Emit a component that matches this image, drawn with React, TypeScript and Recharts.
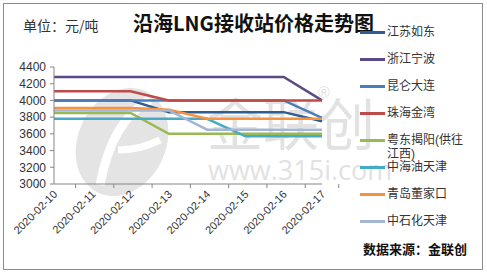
import { LineChart, Line, XAxis, YAxis, Legend } from "recharts";

const dates = [
  "2020-02-10",
  "2020-02-11",
  "2020-02-12",
  "2020-02-13",
  "2020-02-14",
  "2020-02-15",
  "2020-02-16",
  "2020-02-17",
];

const jiangsuRudong = [4000, 4000, 4000, 3860, 3860, 3860, 3860, 3750];
const zhejiangNingbo = [4280, 4280, 4280, 4280, 4280, 4280, 4280, 4000];
const kunlunDalian = [4000, 4000, 4000, 4000, 4000, 4000, 4000, 3790];
const zhuhaiJinwan = [4110, 4110, 4110, 4000, 4000, 4000, 4000, 4000];
const yuedongJieyang = [3850, 3850, 3850, 3600, 3600, 3600, 3600, 3600];
const cnoocTianjin = [3780, 3780, 3780, 3780, 3780, 3570, 3570, 3570];
const qingdaoDongjiakou = [3910, 3910, 3910, 3890, 3780, 3780, 3780, 3780];
const sinopecTianjin = [3880, 3880, 3880, 3880, 3650, 3650, 3650, 3650];

const yTicks = [3000, 3200, 3400, 3600, 3800, 4000, 4200, 4400];

const series = [
  { key: "江苏如东", values: jiangsuRudong, color: "#2f5d91" },
  { key: "浙江宁波", values: zhejiangNingbo, color: "#5c4a85" },
  { key: "昆仑大连", values: kunlunDalian, color: "#4a7ebb" },
  { key: "珠海金湾", values: zhuhaiJinwan, color: "#be4b48" },
  { key: "粤东揭阳(供往江西)", values: yuedongJieyang, color: "#98b954" },
  { key: "中海油天津", values: cnoocTianjin, color: "#46aac5" },
  { key: "青岛董家口", values: qingdaoDongjiakou, color: "#f69240" },
  { key: "中石化天津", values: sinopecTianjin, color: "#a3b6d8" },
];

const data = dates.map((d, i) => {
  const row: Record<string, string | number> = { date: d };
  series.forEach((s) => (row[s.key] = s.values[i]));
  return row;
});

const FONT = '"Liberation Sans", "Noto Sans CJK SC", sans-serif';
const AXIS = "#868686";
const W = 487;
const H = 272;
const M = { top: 67, right: 165, bottom: 0, left: 0 };
const Y_W = 54;
const X_H = 88;
const HALF_BAND = (W - M.right - Y_W) / dates.length / 2;

const XTick = (props: any) => {
  const { x, y, payload, index } = props;
  const last = index === dates.length - 1;
  return (
    <g>
      <line x1={x - HALF_BAND} x2={x - HALF_BAND} y1={y - 4} y2={y} stroke={AXIS} />
      {last && <line x1={x + HALF_BAND} x2={x + HALF_BAND} y1={y - 4} y2={y} stroke={AXIS} />}
      <text
        x={x + 4}
        y={y + 7}
        textAnchor="end"
        fontSize={11}
        fill="#333"
        fontFamily={FONT}
        transform={`rotate(-45, ${x + 4}, ${y + 7})`}
      >
        {payload.value}
      </text>
    </g>
  );
};

// legend keeps the series order instead of the default name sort
const renderLegend = () => (
  <div style={{ fontFamily: FONT, fontSize: 12, color: "#333" }}>
    {series.map((s) => (
      <div key={s.key} style={{ display: "flex", alignItems: "flex-start", height: 27 }}>
        <span
          style={{
            display: "inline-block",
            width: 25,
            height: 2.5,
            marginTop: 6,
            background: s.color,
          }}
        />
        <span style={{ width: 80, lineHeight: "14px", marginLeft: 2 }}>{s.key}</span>
      </div>
    ))}
  </div>
);

export default function App() {
  return (
    <div
      style={{
        position: "absolute",
        left: 0,
        top: 0,
        width: W,
        height: H,
        background: "#fff",
        overflow: "hidden",
        fontFamily: FONT,
      }}
    >
      {/* frame */}
      <div
        style={{
          position: "absolute",
          left: 3,
          top: 3,
          width: 478,
          height: 265,
          border: "1px solid #8c8c8c",
        }}
      />
      {/* watermark */}
      <svg width={W} height={H} style={{ position: "absolute", left: 0, top: 0 }}>
        <ellipse cx={122} cy={142} rx={44} ry={56} transform="rotate(25 122 142)" fill="#e4e4e4" />
        <path d="M 100 185 Q 112 120 150 100" stroke="#fff" strokeWidth={9} fill="none" />
        <path d="M 118 150 Q 140 150 160 140" stroke="#fff" strokeWidth={7} fill="none" />
        <text x={207} y={145} fontSize={56} fill="#e2e2e2" fontFamily='"Noto Sans CJK SC"'>
          金联创
        </text>
        <text x={208} y={180} fontSize={27} fill="#e2e2e2" fontFamily='"Open Sans", sans-serif'>
          www.315i.com
        </text>
        <text x={318} y={98} fontSize={16} fill="#e2e2e2" fontFamily={FONT}>
          ®
        </text>
      </svg>
      <div
        style={{
          position: "absolute",
          left: 23,
          top: 16,
          fontSize: 14,
          color: "#333",
          fontFamily: '"Noto Sans CJK SC", sans-serif',
          lineHeight: "18px",
        }}
      >
        单位：元/吨
      </div>
      <div
        style={{
          position: "absolute",
          left: 133,
          top: 10,
          fontSize: 20,
          fontWeight: "bold",
          color: "#111",
          fontFamily: '"Noto Sans CJK SC", sans-serif',
          lineHeight: "26px",
        }}
      >
        沿海LNG接收站价格走势图
      </div>
      <div
        style={{
          position: "absolute",
          left: 363,
          top: 240,
          fontSize: 13,
          fontWeight: "bold",
          color: "#111",
          fontFamily: '"Noto Sans CJK SC", sans-serif',
          lineHeight: "17px",
        }}
      >
        数据来源：金联创
      </div>
      <div style={{ position: "absolute", left: 0, top: 0 }}>
        <LineChart width={W} height={H} data={data} margin={M}>
          <XAxis
            dataKey="date"
            height={X_H}
            stroke={AXIS}
            tickLine={false}
            tickSize={4}
            tickMargin={0}
            interval={0}
            tick={<XTick />}
          />
          <YAxis
            width={Y_W}
            domain={[3000, 4400]}
            ticks={yTicks}
            interval={0}
            stroke={AXIS}
            tickSize={4}
            tickMargin={4}
            tick={{ fontSize: 12, fill: "#333", fontFamily: FONT }}
          />
          <Legend
            layout="vertical"
            verticalAlign="middle"
            align="center"
            content={renderLegend}
            wrapperStyle={{ position: "absolute", left: 360, top: 25, width: 120 }}
          />
          {series.map((s) => (
            <Line
              key={s.key}
              type="linear"
              dataKey={s.key}
              stroke={s.color}
              strokeWidth={2.5}
              dot={false}
              activeDot={false}
              isAnimationActive={false}
            />
          ))}
        </LineChart>
      </div>
    </div>
  );
}
